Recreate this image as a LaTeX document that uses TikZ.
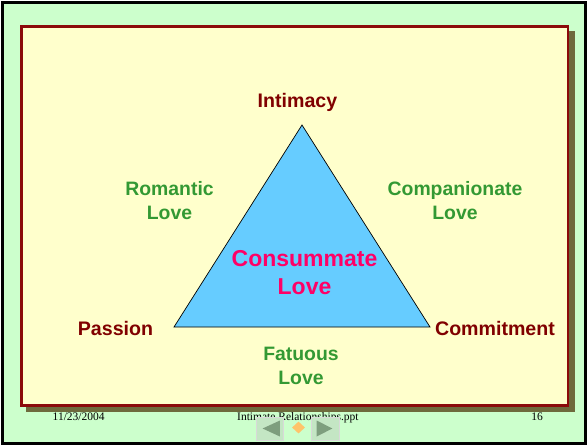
\documentclass[tikz,border=0pt]{standalone}
\usepackage{fontspec}
\setmainfont{Liberation Sans}
\newfontfamily\footfont{Liberation Serif}
\usetikzlibrary{shapes.geometric}
\definecolor{bgreen}{HTML}{CCFFCC}
\definecolor{pyellow}{HTML}{FFFFCC}
\definecolor{shadowc}{HTML}{6E6A3C}
\definecolor{dred}{HTML}{800000}
\definecolor{framered}{HTML}{8B0A0A}
\definecolor{tgreen}{HTML}{339933}
\definecolor{tblue}{HTML}{66CCFF}
\definecolor{magent}{HTML}{FF0066}
\definecolor{btnfill}{HTML}{C4E6C4}
\definecolor{btnarrow}{HTML}{7E9E7E}
\definecolor{diamc}{HTML}{FFC46A}
\tikzset{
  vertexlabel/.style={text=dred, font=\fontsize{19.6}{22}\selectfont\bfseries, inner sep=0pt},
  lovelabel/.style={text=tgreen, font=\fontsize{19.4}{24}\selectfont\bfseries, align=center, inner sep=0pt},
  centerlabel/.style={text=magent, font=\fontsize{23}{28}\selectfont\bfseries, align=center, inner sep=0pt},
  foottext/.style={font=\footfont\fontsize{11.5}{12}\selectfont, inner sep=0pt},
  navbtn/.style={fill=btnfill, draw=white!85!black, line width=0.8pt},
}
\begin{document}
\begin{tikzpicture}[x=1pt,y=-1pt]
\useasboundingbox (0,0) rectangle (588,446);
\fill[white] (0,0) rectangle (588,446);
\fill[bgreen] (2,2) rectangle (586,444);
\draw[black, line width=2.6pt] (2.3,2.6) rectangle (585.7,443.2);
% shadow and panel
\fill[shadowc] (26,31) rectangle (574.5,411.5);
\draw[framered, line width=2.6pt, fill=pyellow] (21.5,26.5) rectangle (568,405.5);
% triangle
\coordinate (apex) at (302,125);
\coordinate (bl) at (174,327);
\coordinate (br) at (430,327);
\draw[fill=tblue, draw=black, line width=0.7pt, line join=miter] (apex) -- (bl) -- (br) -- cycle;
% labels
\node[vertexlabel] (intimacy) at (297.5,102) {Intimacy};
\node[vertexlabel] (passion) at (115.5,328.5) {Passion};
\node[vertexlabel] (commitment) at (495,328.5) {Commitment};
\node[lovelabel] (romantic) at (169.5,201) {Romantic\\Love};
\node[lovelabel] (companion) at (455,201) {Companionate\\Love};
\node[lovelabel] (fatuous) at (301,366) {Fatuous\\Love};
\node[centerlabel] (consummate) at (304.5,273) {Consummate\\Love};
% footer
\node[foottext, anchor=base west] (date) at (52.5,420.5) {11/23/2004};
\node[foottext, anchor=base west] (file) at (237,420.5) {Intimate Relationships.ppt};
\node[foottext, anchor=base east] (page) at (543,420.5) {16};
% navigation buttons
\node[navbtn, minimum width=27pt, minimum height=23pt, inner sep=0pt] (prevbtn) at (269.5,428.5) {};
\node[navbtn, minimum width=28pt, minimum height=23pt, inner sep=0pt] (nextbtn) at (325,428.5) {};
\fill[btnarrow] ([xshift=7pt]prevbtn.west) -- ([xshift=-3.5pt,yshift=8pt]prevbtn.east) -- ([xshift=-3.5pt,yshift=-8pt]prevbtn.east) -- cycle;
\fill[btnarrow] ([xshift=-7pt]nextbtn.east) -- ([xshift=6pt,yshift=8pt]nextbtn.west) -- ([xshift=6pt,yshift=-8pt]nextbtn.west) -- cycle;
\node[diamond, fill=diamc, minimum width=13pt, minimum height=12pt, inner sep=0pt] (homebtn) at (298.5,427.5) {};
\end{tikzpicture}
\end{document}
